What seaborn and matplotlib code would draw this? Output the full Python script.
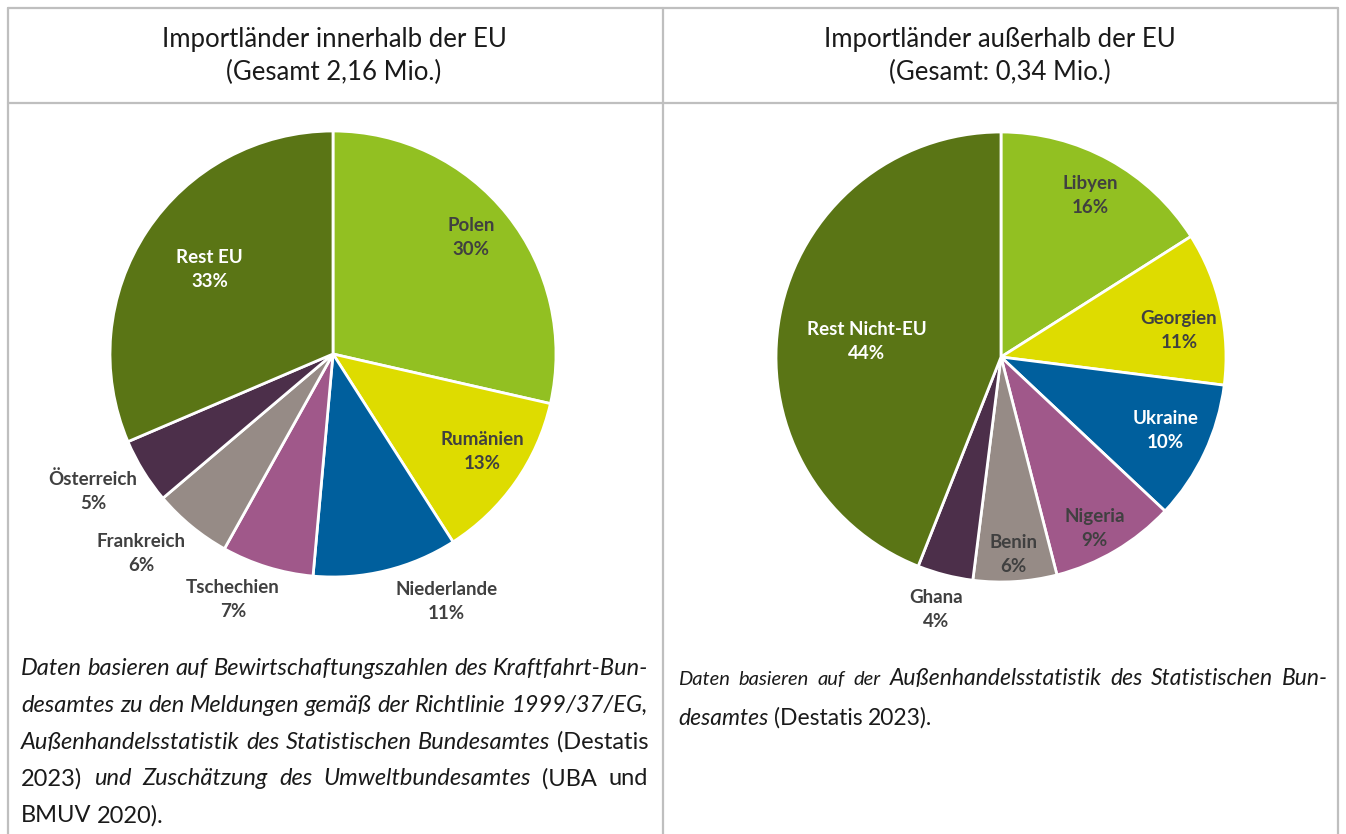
import numpy as np
import matplotlib
matplotlib.use("Agg")
import matplotlib.pyplot as plt
import seaborn as sns

# data
eu_countries = ["Polen", "Rumänien", "Niederlande", "Tschechien", "Frankreich", "Österreich", "Rest EU"]
eu_share = [30, 13, 11, 7, 6, 5, 33]
non_eu_countries = ["Libyen", "Georgien", "Ukraine", "Nigeria", "Benin", "Ghana", "Rest Nicht-EU"]
non_eu_share = [16, 11, 10, 9, 6, 4, 44]
titles = [
    ["Importländer innerhalb der EU", "(Gesamt 2,16 Mio.)"],
    ["Importländer außerhalb der EU", "(Gesamt: 0,34 Mio.)"],
]
# (text, style, size) runs per line
note_left = [
    [("Daten basieren auf Bewirtschaftungszahlen des Kraftfahrt-Bun-", "italic", 17)],
    [("desamtes zu den Meldungen gemäß der Richtlinie 1999/37/EG,", "italic", 17)],
    [("Außenhandelsstatistik des Statistischen Bundesamtes", "italic", 17), ("(Destatis", "normal", 17)],
    [("2023)", "normal", 17), ("und Zuschätzung des Umweltbundesamtes", "italic", 17), ("(UBA und", "normal", 17)],
    [("BMUV 2020).", "normal", 17)],
]
note_right = [
    [("Daten basieren auf der", "italic", 14.5), ("Außenhandelsstatistik des Statistischen Bun-", "italic", 16.5)],
    [("desamtes", "italic", 16.5), ("(Destatis 2023).", "normal", 16.5)],
]

colors = ["#92C022", "#DEDC00", "#005F9D", "#A0588A", "#968B86", "#4C2F4A", "#5A7515"]

sns.set_theme(style="white")
plt.rcParams["font.family"] = ["Lato", "DejaVu Sans"]
palette = sns.color_palette(colors)

W, H = 1346, 834
fig = plt.figure(figsize=(W / 100, H / 100), dpi=100)
bg = fig.add_axes([0, 0, 1, 1])
bg.set_xlim(0, W)
bg.set_ylim(H, 0)
bg.axis("off")

# table grid
grid = dict(color="#BFBFBF", lw=1.6)
bg.plot([8, 1338], [8, 8], **grid)
bg.plot([8, 1338], [103, 103], **grid)
for x in [8, 663, 1338]:
    bg.plot([x, x], [8, H], **grid)

for cx, (t1, t2) in zip([334, 1000], titles):
    bg.text(cx, 39, t1, ha="center", va="center", fontsize=18.5, color="#1a1a1a")
    bg.text(cx, 72, t2, ha="center", va="center", fontsize=18.5, color="#1a1a1a")


def draw_pie(cx, cy, r, values, names, dist, shift, white):
    ax = fig.add_axes([(cx - r) / W, (H - cy - r) / H, 2 * r / W, 2 * r / H])
    wedges, _ = ax.pie(values, colors=palette, startangle=90, counterclock=False,
                       wedgeprops=dict(edgecolor="white", linewidth=2))
    ax.set_xlim(-1, 1)
    ax.set_ylim(-1, 1)
    ax.axis("off")
    for w, name, v, d, s, wh in zip(wedges, names, values, dist, shift, white):
        a = np.deg2rad((w.theta1 + w.theta2) / 2 + s)
        ax.text(d * np.cos(a), d * np.sin(a), f"{name}\n{v}%", ha="center", va="center",
                fontsize=13.5, fontweight="bold", linespacing=1.5,
                color="white" if wh else "#404040")


draw_pie(333, 354, 223, eu_share, eu_countries,
         dist=[0.81, 0.80, 1.22, 1.19, 1.24, 1.24, 0.67],
         shift=[1.5, 2, 11, -5, -4.5, -2, -1],
         white=[False, False, False, False, False, False, True])
draw_pie(1001, 357, 225, non_eu_share, non_eu_countries,
         dist=[0.82, 0.80, 0.80, 0.87, 0.88, 1.16, 0.60],
         shift=[0, -4, 1, -2, 0, 0, 4],
         white=[False, False, True, False, False, False, True])

renderer = fig.canvas.get_renderer()


def put_line(x0, x1, y, runs, justify):
    arts = []
    for text, style, size in runs:
        for word in text.split():
            arts.append(bg.text(x0, y, word, fontstyle=style, fontsize=size,
                                ha="left", va="baseline", color="#1a1a1a"))
    widths = [a.get_window_extent(renderer).width for a in arts]
    if justify and len(arts) > 1:
        gap = (x1 - x0 - sum(widths)) / (len(arts) - 1)
    else:
        gap = 17 * 0.33
    x = x0
    for a, wd in zip(arts, widths):
        a.set_x(x)
        x += wd + gap


for i, runs in enumerate(note_left):
    put_line(21, 648, 675 + i * 36.8, runs, justify=i < len(note_left) - 1)
for i, runs in enumerate(note_right):
    put_line(678, 1328, 685 + i * 40, runs, justify=i < len(note_right) - 1)

fig.savefig("out.png", dpi=100)
